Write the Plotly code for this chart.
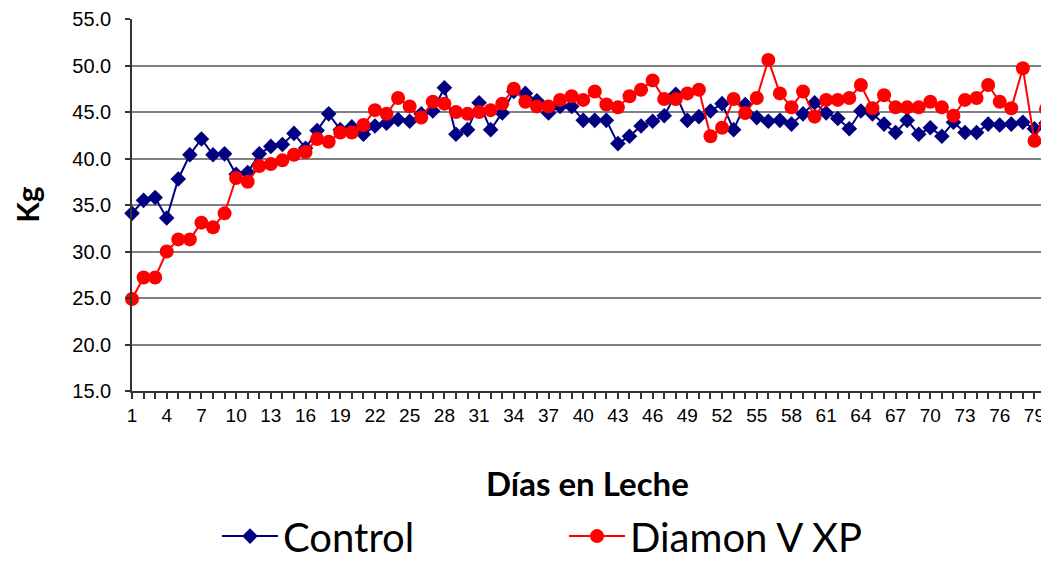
import plotly.graph_objects as go

dias = list(range(1, 81))
control = [34.1, 35.5, 35.8, 33.6, 37.8, 40.4, 42.1, 40.4, 40.5, 38.3,
           38.5, 40.5, 41.3, 41.5, 42.7, 41.1, 43.0, 44.8, 43.1, 43.4,
           42.6, 43.5, 43.8, 44.2, 44.0, 44.8, 45.1, 47.6, 42.6, 43.1,
           46.0, 43.1, 44.9, 47.2, 47.0, 46.2, 44.9, 45.6, 45.6, 44.1,
           44.1, 44.1, 41.6, 42.4, 43.5, 44.0, 44.6, 46.9, 44.1, 44.5,
           45.1, 45.9, 43.1, 45.8, 44.4, 44.0, 44.1, 43.7, 44.8, 46.0,
           44.9, 44.3, 43.2, 45.1, 44.8, 43.7, 42.8, 44.1, 42.6, 43.3,
           42.4, 43.9, 42.8, 42.8, 43.7, 43.6, 43.7, 43.9, 43.2, 43.8]
diamon = [24.9, 27.2, 27.2, 30.0, 31.3, 31.3, 33.1, 32.6, 34.1, 37.9,
          37.5, 39.2, 39.4, 39.8, 40.4, 40.7, 42.1, 41.8, 42.8, 42.8,
          43.6, 45.2, 44.8, 46.5, 45.6, 44.4, 46.1, 45.9, 45.0, 44.8,
          45.0, 45.2, 45.9, 47.5, 46.1, 45.6, 45.6, 46.3, 46.7, 46.3,
          47.2, 45.8, 45.5, 46.7, 47.4, 48.4, 46.4, 46.4, 47.0, 47.4,
          42.4, 43.3, 46.4, 44.9, 46.5, 50.6, 47.0, 45.5, 47.2, 44.5,
          46.3, 46.3, 46.5, 47.9, 45.4, 46.8, 45.5, 45.5, 45.5, 46.1,
          45.5, 44.6, 46.3, 46.5, 47.9, 46.1, 45.4, 49.7, 41.9, 45.3]
x_ticks = list(range(1, 81, 3))
y_ticks = [15, 20, 25, 30, 35, 40, 45, 50, 55]

fig = go.Figure()
fig.add_trace(go.Scatter(
    x=dias, y=control, name="Control", mode="lines+markers",
    line=dict(color="#000080", width=2),
    marker=dict(symbol="diamond", size=12, color="#000080"),
    cliponaxis=False,
))
fig.add_trace(go.Scatter(
    x=dias, y=diamon, name="Diamon V XP", mode="lines+markers",
    line=dict(color="#FF0000", width=2),
    marker=dict(symbol="circle", size=14, color="#FF0000"),
    cliponaxis=False,
))

fig.update_layout(
    width=1049, height=580,
    margin=dict(l=124, r=11, t=11, b=197),
    paper_bgcolor="white", plot_bgcolor="white",
    font=dict(family="Liberation Sans, Arial, sans-serif", size=16, color="black"),
    showlegend=True,
    legend=dict(
        orientation="h", x=0.093, y=-0.39, xanchor="left", yanchor="middle",
        font=dict(family="Lato, sans-serif", size=40, color="black"),
        itemwidth=56,
        entrywidth=276, entrywidthmode="pixels",
        itemsizing="trace", traceorder="normal",
    ),
    annotations=[
        dict(text="<b>Kg</b>", xref="paper", yref="paper", x=-0.1149, y=0.503,
             textangle=-90, showarrow=False, xanchor="center", yanchor="middle",
             font=dict(family="Lato, sans-serif", size=30, color="black")),
        dict(text="<b>Días en Leche</b>", xref="paper", yref="paper", x=0.498, y=-0.247,
             showarrow=False, xanchor="center", yanchor="middle",
             font=dict(family="Lato, sans-serif", size=33, color="black")),
    ],
)

fig.update_xaxes(
    range=[1, 80], tickmode="array", tickvals=x_ticks,
    ticktext=[str(v) for v in x_ticks],
    ticks="outside", ticklen=6, tickcolor="#333", tickwidth=1.5,
    ticklabelstandoff=0, automargin=False,
    minor=dict(dtick=1, tick0=1, ticks="outside", ticklen=6, tickcolor="#333", tickwidth=1.5, showgrid=False),
    showline=True, linecolor="#333", linewidth=1.5,
    showgrid=False, zeroline=False,
    tickfont=dict(size=19),
)
fig.update_yaxes(
    range=[15, 55], tickmode="array", tickvals=y_ticks,
    ticktext=[f"{v:.1f}" for v in y_ticks],
    ticks="outside", ticklen=5, tickcolor="#333", tickwidth=1.5,
    ticklabelstandoff=10, automargin=False,
    showline=True, linecolor="#333", linewidth=1.5,
    showgrid=True, gridcolor="#808080", gridwidth=1.5,
    zeroline=False,
    tickfont=dict(size=20),
)

fig.write_html("out.html")
